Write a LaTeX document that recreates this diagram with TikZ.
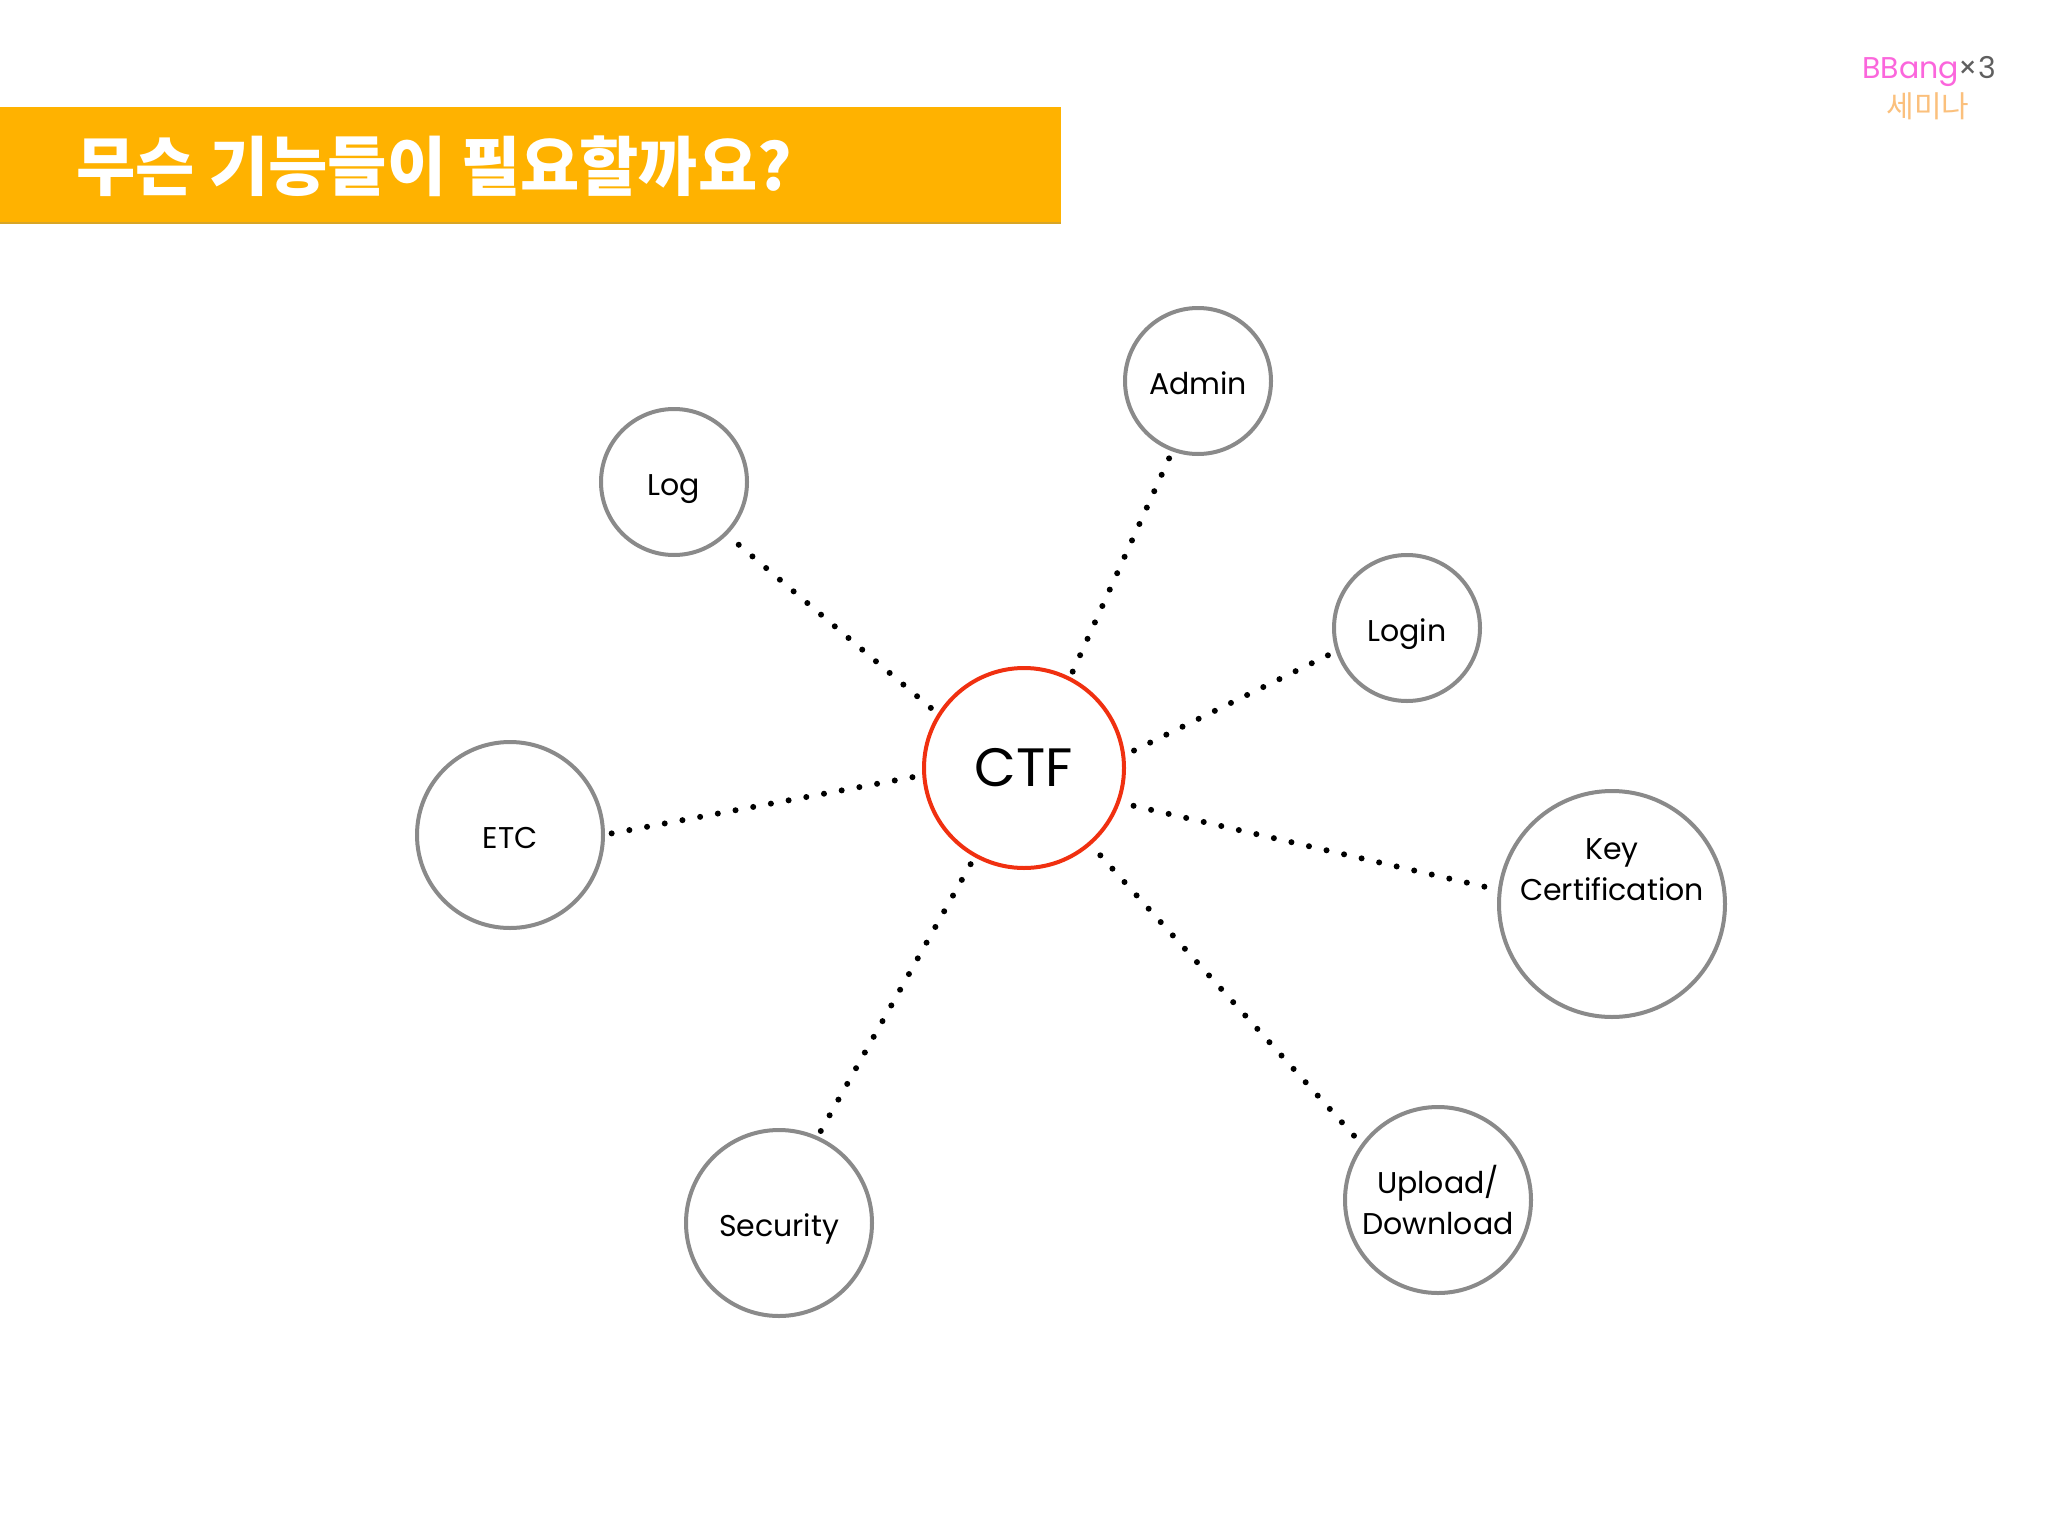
\documentclass[tikz,border=0pt]{standalone}
\usepackage{fontspec}
\setmainfont{Poppins}
\newfontfamily\krfont{Noto Sans CJK KR}
\definecolor{barorange}{HTML}{FFB200}
\definecolor{barline}{HTML}{D8A526}
\definecolor{ringgray}{HTML}{8A8A8A}
\definecolor{ringred}{HTML}{F03010}
\definecolor{logopink}{HTML}{FB66DC}
\definecolor{logogray}{HTML}{5F5F5F}
\definecolor{logoorange}{HTML}{FBC07C}
\tikzset{
  ring/.style={draw=ringgray,line width=4pt,circle,inner sep=0pt,outer sep=0pt,align=center,
    font=\fontsize{30}{41}\selectfont},
  oneline/.style={text height=26pt,text depth=0pt},
  dots/.style={line width=6pt,line cap=round,dash pattern=on 0pt off 18pt},
}
\begin{document}
\begin{tikzpicture}[x=1pt,y=-1pt]
  \useasboundingbox[fill=white] (0,0) rectangle (2048,1536);
  \fill[barline] (0,218) rectangle (1061,224);
  \fill[barorange] (0,107) rectangle (1061,222);
  \node[anchor=west,inner sep=0pt,text=white,font=\krfont\bfseries\fontsize{64.4}{70}\selectfont] (title) at (76,166) {무슨 기능들이 필요할까요?};
  \node[inner sep=0pt,font=\fontsize{30}{36}\selectfont] (logo) at (1929,71) {\textcolor{logopink}{BBang}\textcolor{logogray}{×3}};
  \node[inner sep=0pt,text=logoorange,font=\krfont\fontsize{30}{34}\selectfont] (logosub) at (1928,106) {세미나};
  \draw
    (1024,768) node[ring,draw=ringred,minimum size=200pt,font=\fontsize{54}{60}\selectfont] (ctf){CTF}
    (1198,381) node[ring,oneline,minimum size=146pt] (admin){Admin}
    (674,482) node[ring,oneline,minimum size=146pt] (log){Log}
    (1407,628) node[ring,oneline,minimum size=146pt] (login){Login}
    (510,835) node[ring,oneline,minimum size=186pt] (etc){ETC}
    (1612,904) node[ring,minimum size=226pt,text depth=69pt] (keycert){Key\\Certification}
    (779,1223) node[ring,oneline,minimum size=186pt] (security){Security}
    (1438,1200) node[ring,minimum size=186pt] (updown){Upload/\\Download};
  \begin{scope}[dots]
    \draw[shorten <=8pt,shorten >=9pt] (ctf.63) to (admin.250.7);
    \draw[shorten <=11pt,shorten >=10pt] (ctf.148) to (log.-45);
    \draw[shorten <=12pt,shorten >=6pt] (ctf.7) to (login.198);
    \draw[shorten <=12pt,shorten >=6pt] (ctf.184) to (etc.0);
    \draw[shorten <=16pt,shorten >=12pt] (ctf.-20) to (keycert.173);
    \draw[shorten <=10pt,shorten >=2pt] (ctf.-119) to (security.66.8);
    \draw[shorten <=16pt,shorten >=8pt] (ctf.-49) to (updown.144.3);
  \end{scope}
\end{tikzpicture}
\end{document}
